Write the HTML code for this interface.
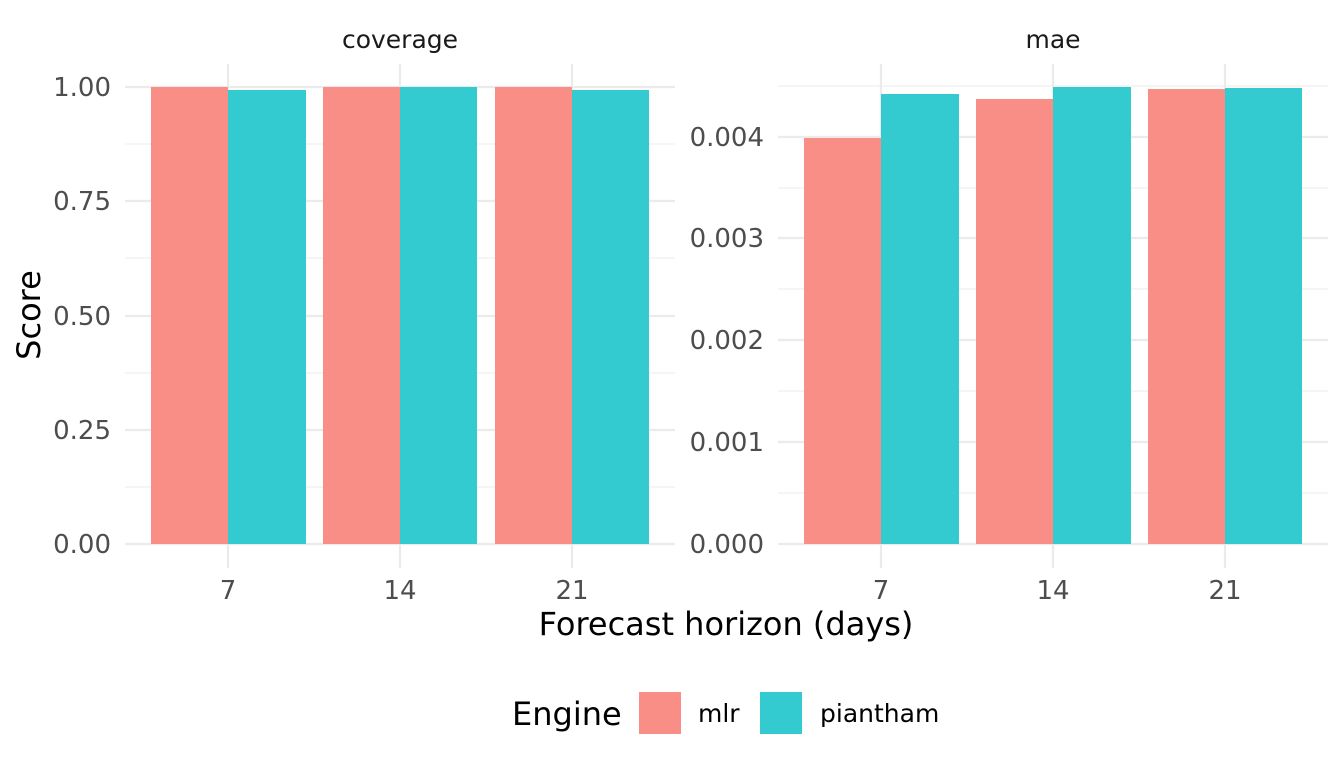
<!DOCTYPE html>
<html><head><meta charset="utf-8"><style>
html,body{margin:0;padding:0;background:#fff;}
svg{display:block;font-family:"DejaVu Sans","Liberation Sans",sans-serif;}
</style></head><body>
<svg width="1344" height="768" viewBox="0 0 1344 768" xmlns="http://www.w3.org/2000/svg">
<g stroke="#ebebeb" stroke-width="1">
<line x1="125" x2="675" y1="487" y2="487"/><line x1="125" x2="675" y1="373" y2="373"/><line x1="125" x2="675" y1="258" y2="258"/><line x1="125" x2="675" y1="144" y2="144"/>
<line x1="778" x2="1328" y1="493" y2="493"/><line x1="778" x2="1328" y1="391" y2="391"/><line x1="778" x2="1328" y1="289" y2="289"/><line x1="778" x2="1328" y1="188" y2="188"/><line x1="778" x2="1328" y1="86" y2="86"/>
</g>
<g stroke="#ebebeb" stroke-width="2.2">
<line x1="125" x2="675" y1="544" y2="544"/><line x1="125" x2="675" y1="430" y2="430"/><line x1="125" x2="675" y1="316" y2="316"/><line x1="125" x2="675" y1="201" y2="201"/><line x1="125" x2="675" y1="87" y2="87"/>
<line x1="228" x2="228" y1="64" y2="568"/><line x1="400" x2="400" y1="64" y2="568"/><line x1="572" x2="572" y1="64" y2="568"/>
<line x1="778" x2="1328" y1="544" y2="544"/><line x1="778" x2="1328" y1="442" y2="442"/><line x1="778" x2="1328" y1="340" y2="340"/><line x1="778" x2="1328" y1="238" y2="238"/><line x1="778" x2="1328" y1="137" y2="137"/>
<line x1="881" x2="881" y1="64" y2="568"/><line x1="1053" x2="1053" y1="64" y2="568"/><line x1="1225" x2="1225" y1="64" y2="568"/>
</g>
<g fill="#f98e87">
<rect x="151" y="87" width="77" height="457"/><rect x="323" y="87" width="77" height="457"/><rect x="495" y="87" width="77" height="457"/>
<rect x="804" y="138" width="77" height="406"/><rect x="976" y="99" width="77" height="445"/><rect x="1148" y="89" width="77" height="455"/>
</g>
<g fill="#33cbcf">
<rect x="228" y="90" width="78" height="454"/><rect x="400" y="87" width="77" height="457"/><rect x="572" y="90" width="77" height="454"/>
<rect x="881" y="94" width="78" height="450"/><rect x="1053" y="87" width="78" height="457"/><rect x="1225" y="88" width="77" height="456"/>
</g>
<g font-size="25" fill="#1a1a1a" text-anchor="middle">
<text x="400" y="48">coverage</text><text x="1053" y="48">mae</text>
</g>
<g font-size="26" fill="#4d4d4d" text-anchor="end">
<text x="111" y="553">0.00</text><text x="111" y="439">0.25</text><text x="111" y="325">0.50</text><text x="111" y="210">0.75</text><text x="111" y="96">1.00</text>
<text x="764" y="553">0.000</text><text x="764" y="451">0.001</text><text x="764" y="349">0.002</text><text x="764" y="247">0.003</text><text x="764" y="146">0.004</text>
</g>
<g font-size="26" fill="#4d4d4d" text-anchor="middle">
<text x="228" y="599">7</text><text x="400" y="599">14</text><text x="572" y="599">21</text>
<text x="881" y="599">7</text><text x="1053" y="599">14</text><text x="1225" y="599">21</text>
</g>
<text x="726" y="635" font-size="32" text-anchor="middle" fill="#000">Forecast horizon (days)</text>
<text transform="translate(40,315) rotate(-90)" font-size="32" text-anchor="middle" fill="#000">Score</text>
<text x="512" y="725" font-size="32" fill="#000">Engine</text>
<rect x="639" y="692" width="42" height="42" fill="#f98e87"/>
<rect x="760" y="692" width="42" height="42" fill="#33cbcf"/>
<text x="698" y="722" font-size="25" fill="#000">mlr</text>
<text x="820" y="722" font-size="25" fill="#000">piantham</text>
</svg>
</body></html>
